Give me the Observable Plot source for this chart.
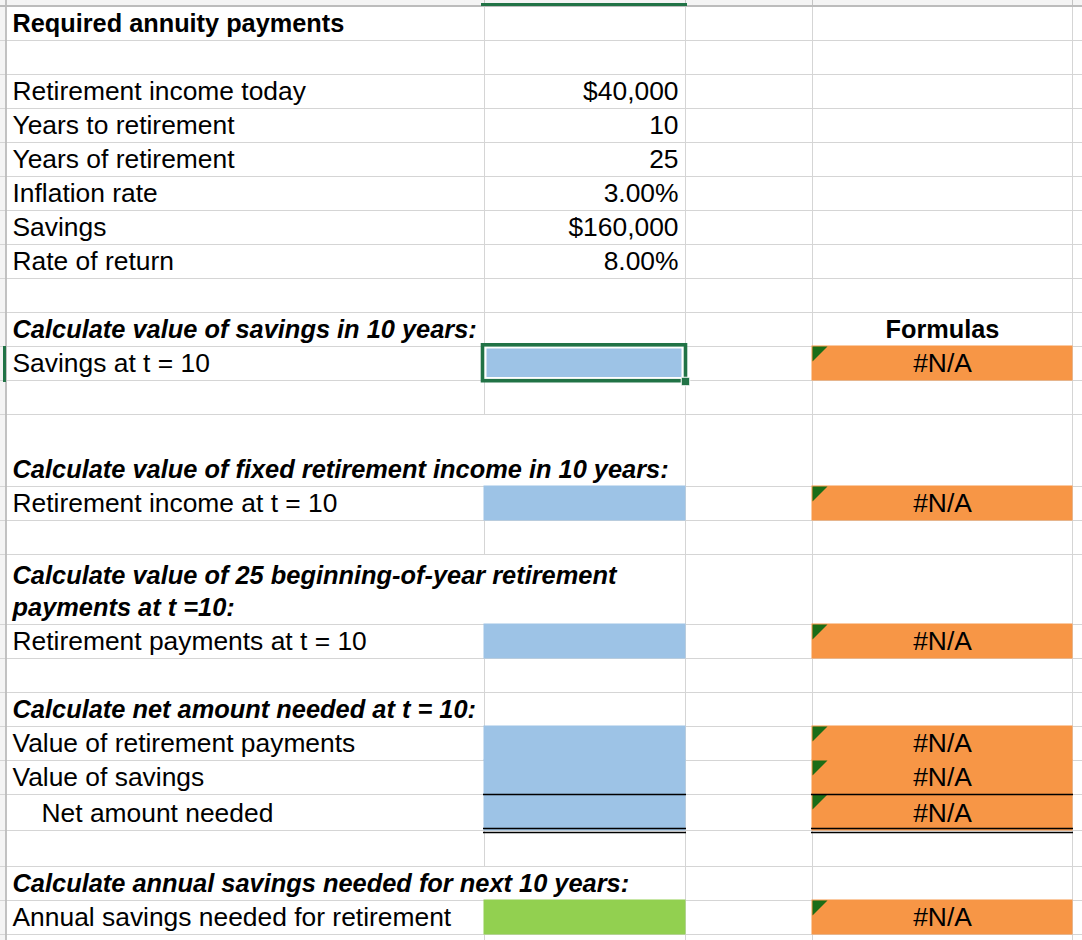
<!DOCTYPE html>
<html>
<head>
<meta charset="utf-8">
<script src="https://cdn.jsdelivr.net/npm/d3@7"></script>
<script src="https://cdn.jsdelivr.net/npm/@observablehq/plot@0.6"></script>
<style>
  html, body { margin: 0; padding: 0; background: #fff; overflow: hidden; }
  #chart svg { display: block; }
</style>
</head>
<body>
<div id="chart"></div>
<script>
// ---------------- Content (read from the sheet) ----------------
const title = "Required annuity payments";
const inputLabels = ["Retirement income today", "Years to retirement", "Years of retirement", "Inflation rate", "Savings", "Rate of return"];
const inputValues = ["$40,000", "10", "25", "3.00%", "$160,000", "8.00%"];
const sectionHeadings = [
  "Calculate value of savings in 10 years:",
  "Calculate value of fixed retirement income in 10 years:",
  "Calculate value of 25 beginning-of-year retirement\npayments at t =10:",
  "Calculate net amount needed at t = 10:",
  "Calculate annual savings needed for next 10 years:"
];
const sectionItems = [
  ["Savings at t = 10"],
  ["Retirement income at t = 10"],
  ["Retirement payments at t = 10"],
  ["Value of retirement payments", "Value of savings", "Net amount needed"],
  ["Annual savings needed for retirement"]
];
const formulaHeader = "Formulas";
const formulaResult = "#N/A";

// ---------------- Sheet layout (geometry / format) ----------------
const W = 1082, H = 940;
const colWidths = [6, 478, 201, 127, 260, 30];            // header, A, B, C, D, E
const rowHeights = [6, 34, 34, 34, 34, 34, 34, 34, 34, 34, 34, 34, 34, 72, 34, 34, 70, 34, 34, 34, 34, 34, 36, 36, 34, 34, 34];
const titleRow = 1, firstInputRow = 3, headingRows = [10, 13, 16, 19, 24], selectedRow = 11;
const SIZE = {plain: 26.4, bold: 25.3, heading: 25.4};
const COLORS = {grid: "#d5d5d5", header: "#f4f4f4", headerLine: "#bcbcbc", input: "#9dc3e6", answer: "#92d050",
                formula: "#f79646", flag: "#1b6d17", select: "#217346"};

const colEdge = Array.from(d3.cumsum([0, ...colWidths]));
const COL = {A: 1, B: 2, C: 3, D: 4, E: 5};
const cl = c => colEdge[COL[c]], cr = c => colEdge[COL[c] + 1];
const rowEdge = Array.from(d3.cumsum([0, ...rowHeights]));
const rt = r => rowEdge[r], rb = r => rowEdge[r + 1];
const nRows = rowHeights.length - 1;

// ---------------- Build cell tables ----------------
const texts = [], fills = [], flags = [], totals = [];
texts.push({row: titleRow, col: "A", text: title, kind: "bold", align: "left"});
inputLabels.forEach((t, i) => texts.push({row: firstInputRow + i, col: "A", text: t, kind: "plain", align: "left"}));
inputValues.forEach((t, i) => texts.push({row: firstInputRow + i, col: "B", text: t, kind: "plain", align: "right"}));
texts.push({row: headingRows[0], col: "D", text: formulaHeader, kind: "bold", align: "center"});
sectionHeadings.forEach((h, s) => {
  const hr = headingRows[s];
  texts.push({row: hr, col: "A", text: h, kind: "heading", align: "left"});
  const items = sectionItems[s];
  items.forEach((item, j) => {
    const r = hr + 1 + j;
    const isTotal = items.length > 1 && j === items.length - 1;
    texts.push({row: r, col: "A", text: item, kind: "plain", align: "left", indent: isTotal});
    texts.push({row: r, col: "D", text: formulaResult, kind: "plain", align: "center"});
    fills.push({row: r, col: "B", role: s === sectionHeadings.length - 1 ? "answer" : "input"});
    fills.push({row: r, col: "D", role: "formula"});
    flags.push({row: r, col: "D"});
    if (isTotal) totals.push(r);
  });
});

// text positions
const tx = d => d.align === "left" ? cl(d.col) + 6 + (d.indent ? 29 : 0)
             : d.align === "right" ? cr(d.col) - 7 : (cl(d.col) + cr(d.col)) / 2;
const ty = d => rb(d.row) - 9;

// which rows spill col A text across column B's left gridline
const ctx = document.createElement("canvas").getContext("2d");
const fontFor = k => (k === "heading" ? "italic bold " : k === "bold" ? "bold " : "") + SIZE[k] + "px 'Liberation Sans', Arial";
const spillRows = new Set(texts.filter(d => d.col === "A").filter(d => {
  ctx.font = fontFor(d.kind);
  const w = d3.max(d.text.split("\n"), l => ctx.measureText(l).width);
  return tx(d) + w > cl("B");
}).map(d => d.row));

// gridlines
const hLines = d3.range(2, nRows + 2).map(r => ({y: rowEdge[r]}));
const vLines = [];
[2, 3, 4, 5].forEach(ci => {
  for (let r = 0; r <= nRows; r++) {
    if (ci === 2 && spillRows.has(r)) continue;
    vLines.push({x: colEdge[ci], y1: rowEdge[r], y2: rowEdge[r + 1], hdr: r === 0});
  }
});

// error-indicator triangles
const triPts = flags.flatMap((f, i) => {
  const x0 = cl(f.col), y0 = rt(f.row), s = 15;
  return [{id: i, x: x0, y: y0}, {id: i, x: x0 + s, y: y0}, {id: i, x: x0, y: y0 + s}];
});

// borders on total rows
const borderLines = totals.flatMap(r => ["B", "D"].flatMap(c => [
  {x1: cl(c) - 1, x2: cr(c) + 1, y: rt(r)},
  {x1: cl(c) - 1, x2: cr(c) + 1, y: rb(r) - 2},
  {x1: cl(c) - 1, x2: cr(c) + 1, y: rb(r) + 2}
]));

const sel = [{x1: cl("B"), x2: cr("B"), y1: rt(selectedRow), y2: rb(selectedRow)}];

// text marks per style/alignment
const anchorOf = {left: "start", right: "end", center: "middle"};
const textMarks = [];
for (const kind of ["plain", "bold", "heading"]) {
  for (const align of ["left", "right", "center"]) {
    const data = texts.filter(d => d.kind === kind && d.align === align);
    if (!data.length) continue;
    textMarks.push(Plot.text(data, {
      x: tx, y: ty, text: "text", textAnchor: anchorOf[align], lineAnchor: "bottom",
      fontSize: SIZE[kind], fontWeight: kind === "plain" ? "normal" : "bold",
      fontStyle: kind === "heading" ? "italic" : "normal", lineHeight: 1.26, fill: "#000"
    }));
  }
}

const chart = Plot.plot({
  width: W, height: H, margin: 0,
  x: {type: "linear", domain: [0, W], range: [0, W], axis: null},
  y: {type: "linear", domain: [0, H], range: [0, H], axis: null},
  style: {fontFamily: "'Liberation Sans', Arial, sans-serif", background: "#fff", overflow: "hidden"},
  marks: [
    // headers
    Plot.rect([{}], {x1: 0, x2: W, y1: 0, y2: rowEdge[1], fill: COLORS.header}),
    Plot.rect([{}], {x1: 0, x2: colEdge[1], y1: 0, y2: H, fill: COLORS.header}),
    // gridlines
    Plot.ruleY(hLines, {y: "y", x1: 0, x2: W, stroke: COLORS.grid, strokeWidth: 1}),
    Plot.ruleX(vLines, {x: "x", y1: "y1", y2: "y2", stroke: d => d.hdr ? "#c4c4c4" : COLORS.grid, strokeWidth: 1}),
    Plot.ruleY([rowEdge[1] - 0.5], {x1: 0, x2: W, stroke: COLORS.headerLine, strokeWidth: 1.8}),
    Plot.ruleX([colEdge[1] - 0.5], {y1: 0, y2: H, stroke: COLORS.headerLine, strokeWidth: 1.8}),
    // header selection indicators
    Plot.rect(sel, {x1: d => d.x1 - 3, x2: d => d.x2 + 2, y1: 3, y2: rowEdge[1], fill: COLORS.select}),
    Plot.rect(sel, {x1: 3, x2: colEdge[1], y1: "y1", y2: d => d.y2 + 2, fill: COLORS.select}),
    // fills
    Plot.rect(fills, {x1: d => cl(d.col), x2: d => cr(d.col), y1: d => rt(d.row), y2: d => rb(d.row),
      fill: d => COLORS[d.role], insetLeft: -0.5, insetRight: -0.5, insetTop: -0.5, insetBottom: -0.5}),
    // error triangles
    Plot.line(triPts, {x: "x", y: "y", z: "id", fill: COLORS.flag, stroke: "none"}),
    // borders
    Plot.ruleY(borderLines, {y: "y", x1: "x1", x2: "x2", stroke: "#000", strokeWidth: 1.4}),
    // selected cell
    Plot.rect(sel, {x1: "x1", x2: "x2", y1: "y1", y2: "y2", fill: "#fff", insetLeft: -0.5, insetRight: -0.5}),
    Plot.rect(sel, {x1: "x1", x2: "x2", y1: "y1", y2: "y2", fill: COLORS.input, insetLeft: 2.5, insetRight: 3.5, insetTop: 2.5, insetBottom: 3}),
    Plot.rect(sel, {x1: d => d.x1 - 1.5, x2: d => d.x2 + 0.5, y1: d => d.y1 - 1.2, y2: d => d.y2 + 0.7,
      fill: "none", stroke: COLORS.select, strokeWidth: 3.6}),
    Plot.dot(sel, {x: "x2", y: d => d.y2 + 1, symbol: "square", r: 4.8, fill: COLORS.select, stroke: "#fff", strokeWidth: 1}),
    // texts
    ...textMarks
  ]
});
document.getElementById("chart").append(chart);
</script>
</body>
</html>
